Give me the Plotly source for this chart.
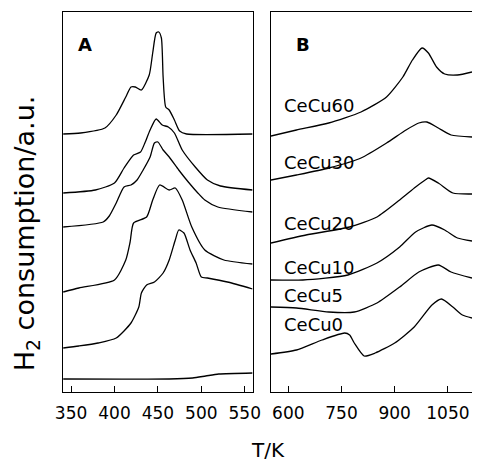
import plotly.graph_objects as go

# ---------------- data ----------------
samples = ["CeCu60", "CeCu30", "CeCu20", "CeCu10", "CeCu5", "CeCu0"]

# Panel A (low temperature region), T in K, signal in a.u. (offset stacked)
A1_T = [341, 361, 389, 402, 413, 419, 424, 431, 440, 444, 448, 451, 454, 456, 459, 463, 469, 475, 483, 559]
A1_Y = [258, 259, 264, 277, 295, 305, 305, 302, 317, 339, 359, 360, 354, 315, 285, 282, 272, 261, 258, 258]

A2_T = [341, 378, 400, 411, 422, 430, 435, 441, 448, 455, 462, 469, 478, 493, 507, 522, 559]
A2_Y = [199, 202, 209, 224, 237, 240, 249, 262, 273, 267, 265, 259, 242, 225, 212, 206, 202]

A3_T = [341, 387, 394, 402, 411, 419, 426, 433, 441, 446, 450, 456, 463, 474, 485, 496, 504, 519, 559]
A3_Y = [165, 170, 176, 189, 205, 207, 212, 222, 235, 249, 250, 242, 235, 222, 210, 199, 192, 185, 180]

A4_T = [341, 359, 400, 413, 418, 422, 437, 444, 452, 463, 470, 478, 489, 504, 526, 559]
A4_Y = [100, 104, 112, 132, 150, 169, 175, 192, 207, 202, 204, 192, 165, 142, 132, 128]

A5_T = [341, 359, 381, 402, 419, 428, 431, 437, 446, 456, 463, 470, 474, 480, 487, 494, 500, 507, 530, 559]
A5_Y = [44, 46, 49, 54, 69, 85, 99, 107, 110, 119, 132, 152, 162, 159, 142, 129, 115, 114, 110, 103]

A6_T = [341, 463, 490, 505, 520, 559]
A6_Y = [13, 13, 14, 16, 18, 19]

# Panel B (high temperature region)
B1_T = [551, 623, 714, 805, 877, 923, 950, 977, 995, 1018, 1041, 1077, 1118]
B1_Y = [256, 262, 269, 280, 295, 315, 332, 344, 339, 325, 318, 317, 320]

B2_T = [551, 623, 714, 805, 877, 932, 968, 991, 1023, 1059, 1118]
B2_Y = [212, 217, 224, 234, 249, 262, 269, 270, 264, 257, 255]

B3_T = [551, 650, 773, 850, 914, 959, 986, 995, 1023, 1064, 1118]
B3_Y = [149, 157, 165, 175, 192, 205, 212, 214, 209, 199, 198]

B4_T = [551, 641, 768, 850, 914, 959, 1005, 1041, 1077, 1118]
B4_Y = [112, 112, 117, 129, 145, 160, 167, 162, 154, 151]

B5_T = [551, 623, 714, 786, 850, 914, 968, 1023, 1059, 1118]
B5_Y = [85, 84, 80, 80, 89, 105, 120, 127, 120, 114]

B6_T = [551, 623, 695, 759, 773, 786, 814, 845, 900, 955, 1005, 1032, 1064, 1091, 1118]
B6_Y = [38, 42, 52, 59, 57, 49, 36, 39, 49, 65, 87, 93, 85, 77, 74]

A_series = [(A1_T, A1_Y), (A2_T, A2_Y), (A3_T, A3_Y), (A4_T, A4_Y), (A5_T, A5_Y), (A6_T, A6_Y)]
B_series = [(B1_T, B1_Y), (B2_T, B2_Y), (B3_T, B3_Y), (B4_T, B4_Y), (B5_T, B5_Y), (B6_T, B6_Y)]
label_y = [287, 230, 169, 125, 97, 68]

A_ticks = [350, 400, 450, 500, 550]
B_ticks = [600, 750, 900, 1050]

# ---------------- figure ----------------
W, H = 480, 462
FONT = "DejaVu Sans"
fig = go.Figure()
line = dict(color="black", width=1.3, shape="spline", smoothing=0.6)

for name, (t, y) in zip(samples, A_series):
    fig.add_trace(go.Scatter(x=t, y=y, mode="lines", line=line, name=name,
                             xaxis="x", yaxis="y", showlegend=False))
for name, (t, y) in zip(samples, B_series):
    fig.add_trace(go.Scatter(x=t, y=y, mode="lines", line=line, name=name,
                             xaxis="x2", yaxis="y2", showlegend=False))

ydom = [1 - 392 / H, 1 - 12 / H]
axfont = dict(family=FONT, size=17, color="black")
common_x = dict(showgrid=False, zeroline=False, showline=True, linecolor="black", linewidth=1,
                ticks="inside", ticklen=6, tickcolor="black", tickwidth=1, tickfont=axfont,
                ticklabelstandoff=6)
fig.update_layout(
    width=W, height=H,
    margin=dict(l=0, r=0, t=0, b=0),
    paper_bgcolor="white", plot_bgcolor="white",
    xaxis=dict(domain=[56.7 / W, 253 / W], range=[340.5, 559], tickvals=A_ticks,
               mirror=True, anchor="y", **common_x),
    xaxis2=dict(domain=[272 / W, 1.0], range=[551, 1118], tickvals=B_ticks,
                mirror=True, anchor="y2", **common_x),
    yaxis=dict(domain=ydom, range=[0, 380], showgrid=False, zeroline=False, showticklabels=False,
               showline=True, linecolor="black", linewidth=1, mirror=True, ticks="", anchor="x"),
    yaxis2=dict(domain=ydom, range=[0, 380], showgrid=False, zeroline=False, showticklabels=False,
                showline=True, linecolor="black", linewidth=1, mirror=False, ticks="", anchor="x2"),
)

ann = []
ann.append(dict(text="<b>A</b>", x=80 / W, y=1 - 44 / H, xref="paper", yref="paper",
                xanchor="center", yanchor="middle",
                showarrow=False, font=dict(family=FONT, size=18, color="black")))
ann.append(dict(text="<b>B</b>", x=305 / W, y=1 - 44 / H, xref="paper", yref="paper",
                xanchor="center", yanchor="middle",
                showarrow=False, font=dict(family=FONT, size=18, color="black")))
for name, ly in zip(samples, label_y):
    ann.append(dict(text=name, x=283 / W, xref="paper", y=ly, yref="y2", xanchor="left",
                    yanchor="middle", showarrow=False, font=dict(family=FONT, size=18, color="black")))
ann.append(dict(text="T/K", x=269 / W, y=1 - 450 / H, xref="paper", yref="paper",
                xanchor="center", yanchor="middle",
                showarrow=False, font=dict(family=FONT, size=20, color="black")))
ann.append(dict(text="H<sub>2</sub> consumption/a.u.", x=20 / W, y=1 - 233 / H, xref="paper",
                yref="paper", textangle=-90, xanchor="center", yanchor="middle", showarrow=False,
                font=dict(family=FONT, size=27, color="black")))
fig.update_layout(annotations=ann)

fig.write_html("out.html")
